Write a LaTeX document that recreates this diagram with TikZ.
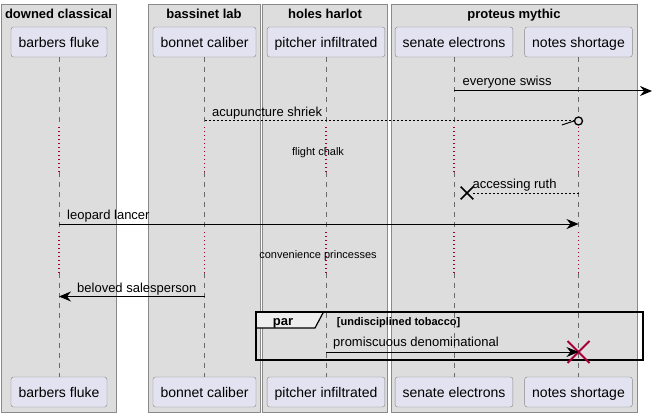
\documentclass[tikz,border=0pt]{standalone}
\usepackage{fontspec}
\setmainfont{Liberation Sans}
\usetikzlibrary{arrows.meta, shapes.misc}
\definecolor{grpfill}{HTML}{DDDDDD}
\definecolor{grpline}{HTML}{8A8A8A}
\definecolor{partfill}{HTML}{E2E2F0}
\definecolor{partline}{HTML}{8A8A8A}
\definecolor{lifegray}{HTML}{6A6A6A}
\definecolor{delayred}{HTML}{A80036}
\definecolor{tabfill}{HTML}{EEEEEE}
\tikzset{
  grp/.style={draw=grpline, fill=grpfill, line width=1pt},
  grptitle/.style={anchor=base, inner sep=0pt, font=\fontsize{13}{15}\selectfont\bfseries},
  part/.style={draw=partline, fill=partfill, rounded corners=2.5pt, minimum height=30pt, inner xsep=7.5pt, inner ysep=0pt, text height=11pt, text depth=0pt, font=\fontsize{14}{16}\selectfont},
  life/.style={draw=lifegray, dash pattern=on 5pt off 5pt, line width=0.8pt},
  delay/.style={draw=delayred, dash pattern=on 1.3pt off 2.7pt, line width=1.1pt},
  msg/.style={line width=1pt, -{Stealth[length=12pt, width=10pt, inset=4pt]}},
  reply/.style={line width=1pt, dash pattern=on 2pt off 2pt},
  lbl/.style={anchor=base west, inner sep=0pt, font=\fontsize{13}{15}\selectfont},
  dlbl/.style={anchor=base, inner sep=0pt, font=\fontsize{11}{13}\selectfont},
  circ/.style={circle, draw, fill=grpfill, line width=1.3pt, minimum size=8pt, inner sep=0pt},
  lost/.style={cross out, draw, line width=1.6pt, minimum size=11pt, inner sep=0pt},
  kill/.style={cross out, draw=delayred, line width=2pt, minimum size=20pt, inner sep=0pt}
}
\begin{document}
\begin{tikzpicture}[x=1pt, y=-1pt]
\useasboundingbox (0,0) rectangle (653,417);
\fill[white] (0,0) rectangle (653,417);
%boxes
\draw[grp] (1,5) rectangle (116,412);
\draw[grp] (148,5) rectangle (260,412);
\draw[grp] (262,5) rectangle (387.5,412);
\draw[grp] (391,5) rectangle (637.5,412);
\node[grptitle] (t1) at (58.5,19) {downed classical};
\node[grptitle] (t2) at (204,19) {bassinet lab};
\node[grptitle] (t3) at (325,19) {holes harlot};
\node[grptitle] (t4) at (514,19) {proteus mythic};
%participants
\node[part] (bf) at (59,42) {barbers fluke};
\node[part] (bc) at (204.5,42) {bonnet caliber};
\node[part] (pi) at (326,42) {pitcher infiltrated};
\node[part] (se) at (454,42) {senate electrons};
\node[part] (ns) at (578.5,42) {notes shortage};
\node[part] (bf2) at (59,392) {barbers fluke};
\node[part] (bc2) at (204.5,392) {bonnet caliber};
\node[part] (pi2) at (326,392) {pitcher infiltrated};
\node[part] (se2) at (454,392) {senate electrons};
\node[part] (ns2) at (578.5,392) {notes shortage};
%lifelines
\draw[life] (bf.south) -- (bf |- 0,127) (bf |- 0,172) -- (bf |- 0,232) (bf |- 0,273) -- (bf2.north);
\draw[life] (bc.south) -- (bc |- 0,127) (bc |- 0,172) -- (bc |- 0,232) (bc |- 0,273) -- (bc2.north);
\draw[life] (pi.south) -- (pi |- 0,127) (pi |- 0,172) -- (pi |- 0,232) (pi |- 0,273) -- (pi2.north);
\draw[life] (se.south) -- (se |- 0,127) (se |- 0,172) -- (se |- 0,232) (se |- 0,273) -- (se2.north);
\draw[life] (ns.south) -- (ns |- 0,127) (ns |- 0,172) -- (ns |- 0,232) (ns |- 0,273) -- (ns2.north);
%delays
\draw[delay] (bf |- 0,127) -- (bf |- 0,172) (bf |- 0,232) -- (bf |- 0,273);
\draw[delay] (bc |- 0,127) -- (bc |- 0,172) (bc |- 0,232) -- (bc |- 0,273);
\draw[delay] (pi |- 0,127) -- (pi |- 0,172) (pi |- 0,232) -- (pi |- 0,273);
\draw[delay] (se |- 0,127) -- (se |- 0,172) (se |- 0,232) -- (se |- 0,273);
\draw[delay] (ns |- 0,127) -- (ns |- 0,172) (ns |- 0,232) -- (ns |- 0,273);
\node[dlbl] (d1) at (318,155) {flight chalk};
\node[dlbl] (d2) at (318,258) {convenience princesses};
%messages
\coordinate (out1) at (652,91);
\draw[msg] (se |- 0,91) -- (out1);
\node[lbl] (m1) at (462.5,86) {everyone swiss};
\node[circ] (c1) at (ns |- 0,121) {};
\draw[reply] (bc |- 0,121) -- (c1.west);
\draw[line width=1pt] (c1.west) -- ++(-12,4);
\node[lbl] (m2) at (212,116.3) {acupuncture shriek};
\node[lost] (x1) at (467,193) {};
\draw[reply] (ns |- 0,193) -- (x1.east);
\node[lbl] (m3) at (472.5,188.3) {accessing ruth};
\draw[msg] (bf |- 0,224) -- (ns |- 0,224);
\node[lbl] (m4) at (67,219) {leopard lancer};
\draw[msg] (bc |- 0,296.5) -- (bf |- 0,296.5);
\node[lbl] (m5) at (77,292) {beloved salesperson};
%par
\draw[line width=1.2pt, fill=tabfill] (256,312) -- (323.5,312) -- (315,328) -- (256,328) -- cycle;
\draw[line width=1.8pt] (256,312) rectangle (643,360);
\node[anchor=base, inner sep=0pt, font=\fontsize{13}{15}\selectfont\bfseries] (p1) at (283,325.7) {par};
\node[anchor=base west, inner sep=0pt, font=\fontsize{11}{13}\selectfont\bfseries] (p2) at (336.7,325.7) {[undisciplined tobacco]};
\node[kill] (x2) at (ns |- 0,352) {};
\draw[msg] (pi |- 0,352) -- (x2.center);
\node[lbl] (m6) at (333,346.7) {promiscuous denominational};
\end{tikzpicture}
\end{document}
